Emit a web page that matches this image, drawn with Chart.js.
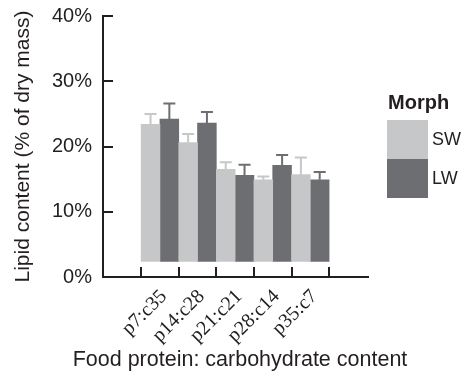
<!DOCTYPE html>
<html>
<head>
<meta charset="utf-8">
<script src="https://cdn.jsdelivr.net/npm/chart.js@4.4.0/dist/chart.umd.min.js"></script>
<style>
html, body { margin: 0; padding: 0; background: #fff; }
</style>
</head>
<body>
<canvas id="chart" width="468" height="372"></canvas>
<script>
var groups = ['p7:c35', 'p14:c28', 'p21:c21', 'p28:c14', 'p35:c7'];
var morphs = ['SW', 'LW'];
var swMean = [23.4, 20.6, 16.5, 14.9, 15.7];
var swUpper = [25.0, 21.9, 17.6, 15.4, 18.3];
var lwMean = [24.2, 23.6, 15.6, 17.1, 14.9];
var lwUpper = [26.6, 25.3, 17.2, 18.7, 16.1];
var barBase = 2.4;
var yTicks = [0, 10, 20, 30, 40];
var xTitle = 'Food protein: carbohydrate content';
var yTitle = 'Lipid content (% of dry mass)';

var colors = ['#c6c7c9', '#6d6e71'];
var ink = '#231f20';
var sans = '"Liberation Sans", Arial, sans-serif';
var serif = '"Liberation Serif", "Times New Roman", serif';

function toBars(means) {
    return means.map(function(v, i) {
        return { x: i, y: [barBase, v] };
    });
}

// upper error whiskers, same colour as their bar
var errorBars = {
    id: 'errorBars',
    afterDatasetsDraw: function(chart) {
        var ctx = chart.ctx;
        var yScale = chart.scales.y;
        [swUpper, lwUpper].forEach(function(upper, d) {
            var meta = chart.getDatasetMeta(d);
            ctx.save();
            ctx.strokeStyle = colors[d];
            ctx.lineWidth = 2;
            meta.data.forEach(function(bar, i) {
                var top = yScale.getPixelForValue(upper[i]);
                ctx.beginPath();
                ctx.moveTo(bar.x, bar.y);
                ctx.lineTo(bar.x, top);
                ctx.moveTo(bar.x - 6, top);
                ctx.lineTo(bar.x + 6, top);
                ctx.stroke();
            });
            ctx.restore();
        });
    }
};

// legend block and x title (the built-in title gets squeezed to the axis width)
var morphLegend = {
    id: 'morphLegend',
    afterDraw: function(chart) {
        var ctx = chart.ctx;
        var x = chart.chartArea.right + 19;
        ctx.save();
        ctx.textBaseline = 'middle';
        ctx.fillStyle = ink;
        ctx.font = 'bold 20px ' + sans;
        ctx.fillText('Morph', x + 1, 103);
        morphs.forEach(function(m, i) {
            ctx.fillStyle = colors[i];
            ctx.fillRect(x, 120 + i * 39, 41, 39);
            ctx.fillStyle = ink;
            ctx.font = '18px ' + sans;
            ctx.fillText(m, x + 45, 140 + i * 39);
        });
        ctx.font = '21.5px ' + sans;
        ctx.textAlign = 'center';
        ctx.fillText(xTitle, 240, 360);
        ctx.restore();
    }
};

var ctx = document.getElementById('chart').getContext('2d');
var myChart = new Chart(ctx, {
    type: 'bar',
    data: {
        datasets: [{
            label: morphs[0],
            data: toBars(swMean),
            backgroundColor: colors[0],
            borderWidth: 0
        }, {
            label: morphs[1],
            data: toBars(lwMean),
            backgroundColor: colors[1],
            borderWidth: 0
        }]
    },
    options: {
        responsive: false,
        animation: false,
        devicePixelRatio: 1,
        categoryPercentage: 1,
        barPercentage: 1,
        layout: {
            padding: { left: 0, right: 100, top: 16, bottom: 0 }
        },
        plugins: {
            legend: { display: false },
            tooltip: { enabled: false }
        },
        scales: {
            x: {
                type: 'linear',
                min: -0.81,
                max: 4.83,
                afterBuildTicks: function(scale) {
                    scale.ticks = groups.map(function(g, i) { return { value: i }; });
                },
                afterFit: function(scale) {
                    scale.height = 95;
                    scale.paddingLeft = 0;
                    scale.paddingRight = 0;
                },
                ticks: {
                    autoSkip: false,
                    minRotation: 45,
                    maxRotation: 45,
                    labelOffset: 4,
                    padding: 18,
                    color: ink,
                    font: { family: serif, size: 20 },
                    callback: function(v) { return groups[v]; }
                },
                grid: {
                    drawOnChartArea: false,
                    tickLength: -10,
                    color: ink,
                    lineWidth: 2
                },
                border: { display: true, color: ink, width: 2 }
            },
            y: {
                min: 0,
                max: 40,
                afterBuildTicks: function(scale) {
                    scale.ticks = yTicks.map(function(t) { return { value: t }; });
                },
                afterFit: function(scale) {
                    scale.width = 103;
                    scale.paddingTop = 0;
                    scale.paddingBottom = 0;
                },
                ticks: {
                    padding: 21,
                    color: ink,
                    font: { family: sans, size: 20 },
                    callback: function(v) { return v + '%'; }
                },
                grid: {
                    drawOnChartArea: false,
                    tickLength: -10,
                    color: ink,
                    lineWidth: 2
                },
                border: { display: true, color: ink, width: 2 },
                title: {
                    display: true,
                    text: yTitle,
                    color: ink,
                    font: { family: sans, size: 21 },
                    padding: { top: 11, bottom: 0 }
                }
            }
        }
    },
    plugins: [errorBars, morphLegend]
});
</script>
</body>
</html>
